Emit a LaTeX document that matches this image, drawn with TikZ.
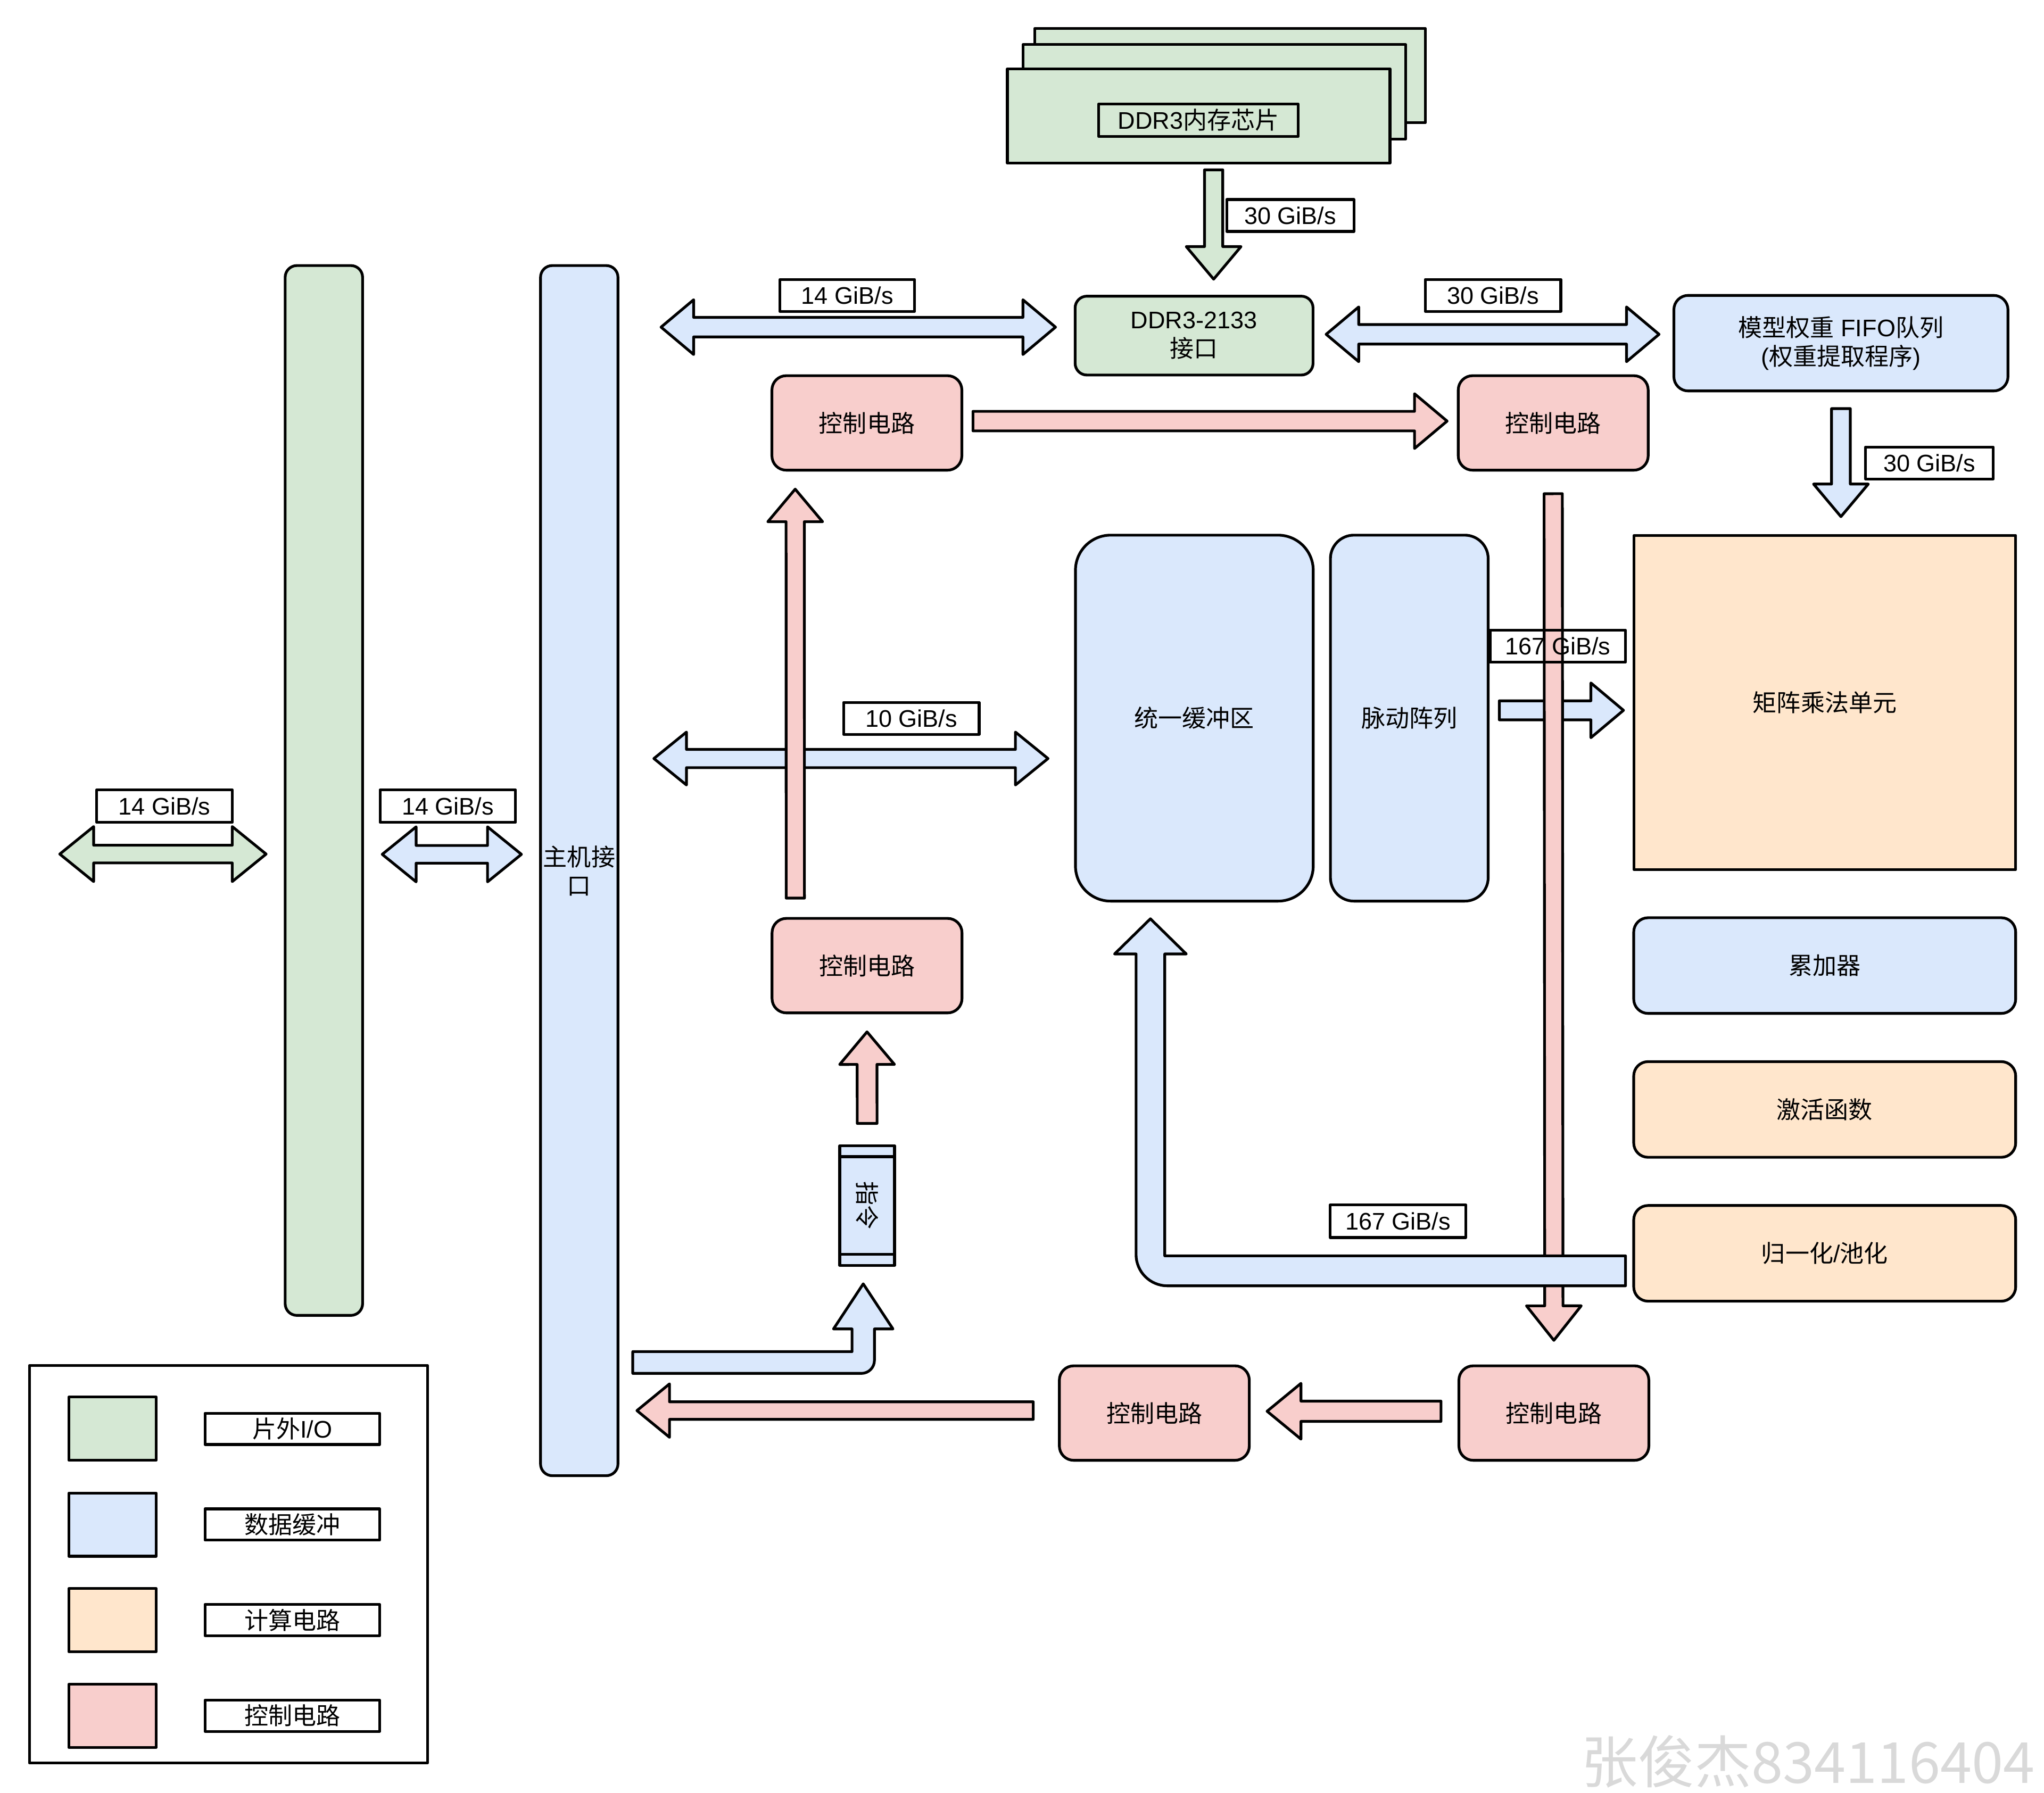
\documentclass[tikz,border=0pt]{standalone}
\usepackage{fontspec}
\setmainfont{Liberation Sans}
\newfontfamily\zh{Noto Sans CJK SC}
\usepackage{tikz}
\usetikzlibrary{calc}
\definecolor{iogreen}{HTML}{D5E8D4}
\definecolor{bufblue}{HTML}{DAE8FC}
\definecolor{cmporange}{HTML}{FFE6CC}
\definecolor{ctlred}{HTML}{F8CECC}
\newcommand{\txt}{\fontsize{18.4}{22}\selectfont}
\tikzstyle{every picture}=[x=1pt,y=-1pt,line width=2.1pt,line join=round]
\tikzstyle{blk}=[draw, inner sep=0pt, align=center, font=\txt]
\tikzstyle{chip}=[draw, fill=iogreen, minimum width=293.5pt, minimum height=72.5pt]
\tikzstyle{ctl}=[blk, fill=ctlred, rounded corners=11pt, minimum width=145.7pt, minimum height=72.5pt]
\tikzstyle{unit}=[blk, rounded corners=11pt, minimum width=293pt, minimum height=73.4pt]
\tikzstyle{bar}=[blk, rounded corners=9pt, minimum width=59.4pt]
\tikzstyle{rate}=[blk, fill=white, minimum height=24.5pt]
\tikzstyle{swatch}=[draw, minimum width=67pt, minimum height=48.5pt]
\tikzstyle{ioarrow}=[draw, fill=iogreen]
\tikzstyle{bufarrow}=[draw, fill=bufblue]
\tikzstyle{ctlarrow}=[draw, fill=ctlred]
\newcommand{\arrowdims}[3]{\def\sw{#1}\def\hw{#2}\def\hlen{#3}}
\newcommand{\fatarrow}[3][]{%
  \coordinate (hb) at ($(#3)!\hlen!(#2)$);
  \draw[#1] ($(#2)!\sw!90:(#3)$) -- ($(hb)!\sw!90:(#3)$) -- ($(hb)!\hw!90:(#3)$) -- (#3)
    -- ($(hb)!\hw!-90:(#3)$) -- ($(hb)!\sw!-90:(#3)$) -- ($(#2)!\sw!-90:(#3)$) -- cycle;}
\newcommand{\fatdarrow}[3][]{%
  \coordinate (hba) at ($(#2)!\hlen!(#3)$);
  \coordinate (hbb) at ($(#3)!\hlen!(#2)$);
  \draw[#1] (#2) -- ($(hba)!\hw!90:(#3)$) -- ($(hba)!\sw!90:(#3)$) -- ($(hbb)!\sw!90:(#3)$)
    -- ($(hbb)!\hw!90:(#3)$) -- (#3) -- ($(hbb)!\hw!-90:(#3)$) -- ($(hbb)!\sw!-90:(#3)$)
    -- ($(hba)!\sw!-90:(#3)$) -- ($(hba)!\hw!-90:(#3)$) -- cycle;}

\begin{document}
\begin{tikzpicture}
\useasboundingbox (0,0) rectangle (1568,1375.7);

\node[chip, minimum width=299.5pt] (chipc) at (943.5,58) {};
\node[chip] (chipb) at (931.5,70.5) {};
\node[chip] (chipa) at (919.5,89) {};
\node[blk, minimum width=153pt, minimum height=25pt] (chiplbl) at (919.3,92.2) {DDR3{\zh 内存芯片}};

\node[blk, fill=iogreen, rounded corners=9pt, minimum width=182.5pt, minimum height=60.5pt] (ddrif) at (916,257.5) {DDR3-2133\\{\zh 接口}};
\node[blk, fill=bufblue, rounded corners=11pt, minimum width=256.3pt, minimum height=73.3pt] (fifo) at (1412.2,263.3) {{\zh 模型权重} FIFO{\zh 队列}\\({\zh 权重提取程序})};
\node[ctl] (ctla) at (665,324.5) {{\zh 控制电路}};
\node[ctl] (ctlb) at (1191.5,324.5) {{\zh 控制电路}};
\node[ctl] (ctlc) at (665.1,740.9) {{\zh 控制电路}};
\node[ctl] (ctld) at (885.5,1084.2) {{\zh 控制电路}};
\node[ctl] (ctle) at (1192,1084.2) {{\zh 控制电路}};
\node[blk, fill=bufblue, rounded corners=27pt, minimum width=182.4pt, minimum height=280.8pt] (ubuf) at (916.2,551) {{\zh 统一缓冲区}};
\node[blk, fill=bufblue, rounded corners=18pt, minimum width=121pt, minimum height=280.8pt] (sysarr) at (1081.1,551) {{\zh 脉动阵列}};
\node[blk, fill=cmporange, minimum width=292.8pt, minimum height=256.5pt] (mmu) at (1399.85,539) {{\zh 矩阵乘法单元}};
\node[unit, fill=bufblue] (acc) at (1399.75,740.85) {{\zh 累加器}};
\node[unit, fill=cmporange] (act) at (1399.75,851.25) {{\zh 激活函数}};
\node[unit, fill=cmporange] (norm) at (1399.75,961.65) {{\zh 归一化}/{\zh 池化}};
\node[blk, fill=bufblue, minimum width=42pt, minimum height=92pt, label={[rotate=-90, font=\txt]center:{\zh 指令}}] (instr) at (665.2,925) {};
\draw ($(instr.north west)+(0,9.5)$) -- ($(instr.north east)+(0,9.5)$);
\draw ($(instr.south west)+(0,-9.5)$) -- ($(instr.south east)+(0,-9.5)$);
\node[bar, fill=iogreen, minimum height=805.5pt] (offio) at (248.45,606.5) {};
\node[bar, fill=bufblue, minimum height=928.5pt] (host) at (444.35,668) {{\zh 主机接}\\{\zh 口}};

\arrowdims{7pt}{21pt}{25pt}
\coordinate (ddrout) at ($(chipa.south)+(11.5,4)$);
\coordinate (ddrin) at ($(ddrif.north)+(15,-12)$);
\fatarrow[ioarrow]{ddrout}{ddrin}

\arrowdims{7.5pt}{21pt}{25pt}
\coordinate (hosttop) at ($(host.east|-ddrif.west)+(32,-6.5)$);
\coordinate (ddrleft) at ($(ddrif.west)+(-14,-6.5)$);
\fatdarrow[bufarrow]{hosttop}{ddrleft}
\coordinate (ddrright) at ($(ddrif.east)+(9,-1)$);
\coordinate (fifoleft) at ($(fifo.west)+(-10.3,-6.8)$);
\fatdarrow[bufarrow]{ddrright}{fifoleft}

\arrowdims{7.2pt}{21pt}{25pt}
\coordinate (fifoout) at ($(fifo.south)+(0,12.5)$);
\coordinate (mmutop) at ($(fifo.south|-mmu.north)+(0,-13.3)$);
\fatarrow[bufarrow]{fifoout}{mmutop}

\arrowdims{7.5pt}{21pt}{25pt}
\coordinate (ctlaout) at ($(ctla.east)+(7.5,-1.4)$);
\coordinate (ctlbin) at ($(ctlb.west)+(-7.5,-1.4)$);
\fatarrow[ctlarrow]{ctlaout}{ctlbin}

\arrowdims{7.3pt}{21pt}{25pt}
\coordinate (sysout) at ($(sysarr.east)+(7.5,-6)$);
\coordinate (mmuin) at ($(mmu.west)+(-7,6)$);
\fatarrow[bufarrow]{sysout}{mmuin}

\arrowdims{7pt}{20.3pt}{25pt}
\coordinate (hostmid) at ($(host.east|-ubuf.west)+(26.5,31)$);
\coordinate (ubufleft) at ($(ubuf.west)+(-20,31)$);
\fatdarrow[bufarrow]{hostmid}{ubufleft}

\arrowdims{7pt}{21pt}{25pt}
\coordinate (ctlcout) at ($(ctlc.north)+(-55,-14.5)$);
\coordinate (ctlain) at ($(ctla.south)+(-55,13.5)$);
\fatarrow[ctlarrow]{ctlcout}{ctlain}

\arrowdims{7.6pt}{21pt}{25pt}
\coordinate (instrout) at ($(instr.north)+(0,-16)$);
\coordinate (ctlcin) at ($(ctlc.south)+(0,13.5)$);
\fatarrow[ctlarrow]{instrout}{ctlcin}

\coordinate (hs) at ($(host.east)+(10.3,377.4)$);
\coordinate (ti) at ($(instr.south)+(-3,13)$);
\draw[bufarrow] ($(hs)+(0,-8.35)$) -- ($(ti|-hs)+(-8.6,-8.35)$) -- ($(ti)+(-8.6,34.6)$) -- ($(ti)+(-22.8,34.6)$) -- (ti)
  -- ($(ti)+(22.8,34.6)$) -- ($(ti)+(8.6,34.6)$) -- ($(ti|-hs)+(8.6,-1.65)$)
  .. controls ($(ti|-hs)+(8.6,3.87)$) and ($(ti|-hs)+(4.12,8.35)$) .. ($(ti|-hs)+(-1.4,8.35)$) -- ($(hs)+(0,8.35)$) -- cycle;

\arrowdims{7.75pt}{21.4pt}{26pt}
\coordinate (ctleout) at ($(ctle.west)+(-12.7,-1.4)$);
\coordinate (ctldin) at ($(ctld.east)+(12.6,-1.4)$);
\fatarrow[ctlarrow]{ctleout}{ctldin}

\arrowdims{6.75pt}{20.5pt}{25pt}
\coordinate (ctldout) at ($(ctld.west)+(-19,-1.9)$);
\coordinate (hostin) at ($(host.east|-ctld.west)+(13.5,-1.9)$);
\fatarrow[ctlarrow]{ctldout}{hostin}

\arrowdims{6.8pt}{21.1pt}{26pt}
\coordinate (pcie) at ($(offio.west)+(-171.85,48.8)$);
\coordinate (offioleft) at ($(offio.west)+(-13.55,48.8)$);
\fatdarrow[ioarrow]{pcie}{offioleft}
\coordinate (offioright) at ($(offio.east)+(14,49)$);
\coordinate (hostleft) at ($(host.west|-offio.east)+(-13.6,49)$);
\fatdarrow[bufarrow]{offioright}{hostleft}

\arrowdims{7pt}{21pt}{26.5pt}
\coordinate (ctlbout) at ($(ctlb.south)+(0,17)$);
\coordinate (ctlein) at ($(ctle.north)+(0,-18.5)$);
\fatarrow[ctlarrow]{ctlbout}{ctlein}

\coordinate (ts) at ($(norm.west)+(-5.25,13.4)$);
\coordinate (tu) at ($(ubuf.south)+(-33.7,12.5)$);
\draw[bufarrow] ($(ts)+(0,-11.5)$) -- ($(tu|-ts)+(11,-11.5)$) -- ($(tu)+(11,27)$) -- ($(tu)+(27.5,27)$) -- (tu)
  -- ($(tu)+(-27.5,27)$) -- ($(tu)+(-11,27)$) -- ($(tu|-ts)+(-11,-12.5)$)
  .. controls ($(tu|-ts)+(-11,0.75)$) and ($(tu|-ts)+(-0.25,11.5)$) .. ($(tu|-ts)+(13,11.5)$) -- ($(ts)+(0,11.5)$) -- cycle;

\node[rate, minimum width=97.5pt] (r30a) at (989.8,165.35) {30 GiB/s};
\node[rate, minimum width=103.4pt] (r14a) at (650,226.65) {14 GiB/s};
\node[rate, minimum width=104pt] (r30b) at (1145.3,226.6) {30 GiB/s};
\node[rate, minimum width=98pt] (r30c) at (1480,355.2) {30 GiB/s};
\node[rate, fill=none, minimum width=104pt] (r167a) at (1195,495.8) {167 GiB/s};
\node[rate, minimum width=104pt] (r10) at (699.1,551.15) {10 GiB/s};
\node[rate, minimum width=104pt, minimum height=25pt] (r167b) at (1072.4,937) {167 GiB/s};
\node[rate, minimum width=104pt, minimum height=25pt] (r14b) at (126.2,618.5) {14 GiB/s};
\node[rate, minimum width=104pt, minimum height=25pt] (r14c) at (343.5,618.5) {14 GiB/s};

\node[draw, minimum width=305.5pt, minimum height=305pt] (legend) at (175.25,1200.15) {};
\node[swatch, fill=iogreen] (keyio) at (86.3,1096.2) {};
\node[swatch, fill=bufblue] (keybuf) at (86.3,1169.8) {};
\node[swatch, fill=cmporange] (keycmp) at (86.3,1243.1) {};
\node[swatch, fill=ctlred] (keyctl) at (86.3,1316.5) {};
\node[rate, minimum width=134pt, minimum height=24pt] (txtio) at (224.2,1096.3) {{\zh 片外}I/O};
\node[rate, minimum width=134pt, minimum height=24pt] (txtbuf) at (224.2,1169.7) {{\zh 数据缓冲}};
\node[rate, minimum width=134pt, minimum height=24pt] (txtcmp) at (224.2,1243) {{\zh 计算电路}};
\node[rate, minimum width=134pt, minimum height=24pt] (txtctl) at (224.2,1316.4) {{\zh 控制电路}};

\node[inner sep=0pt, text=black!15, font=\fontsize{43.5}{50}\selectfont] (mark) at (1387,1351.5) {{\zh 张俊杰834116404}};
\end{tikzpicture}
\end{document}
